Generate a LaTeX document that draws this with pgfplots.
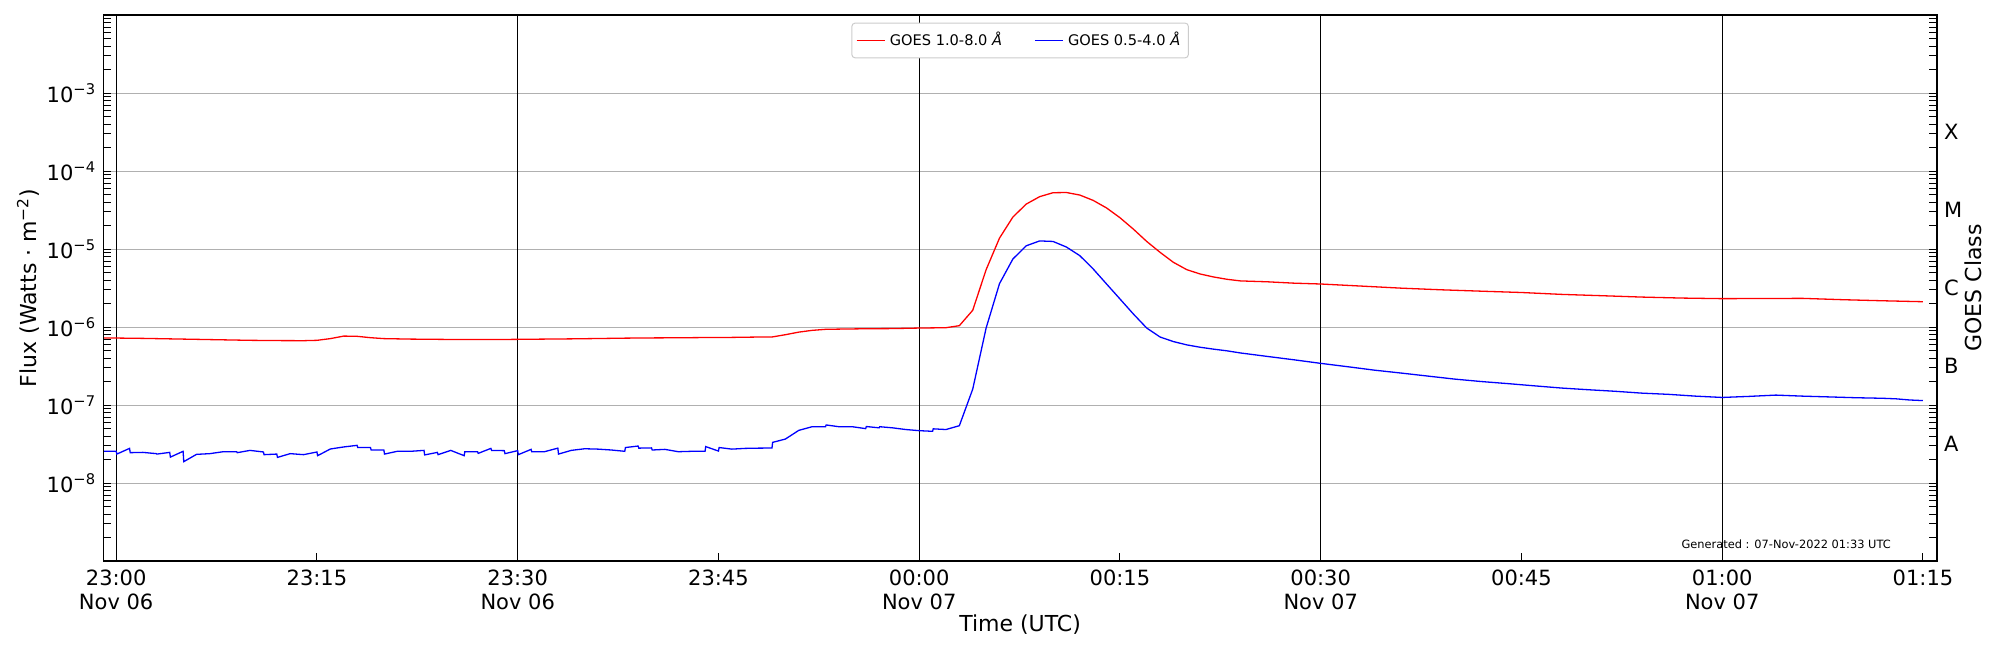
\documentclass[border=0pt]{standalone}
\usepackage{fontspec}
\setmainfont{DejaVu Sans}
\usepackage{pgfplots}
\pgfplotsset{compat=1.18}
\definecolor{gridgray}{HTML}{B0B0B0}
\definecolor{leggray}{HTML}{CCCCCC}
\pgfplotstableread{
t f
-1 7.25e-7
0 7.22e-7
2 7.15e-7
4 7.05e-7
6 6.95e-7
8 6.85e-7
10 6.75e-7
12 6.7e-7
14 6.68e-7
15 6.75e-7
16 7.1e-7
17 7.65e-7
18 7.6e-7
19 7.3e-7
20 7.1e-7
22 7.0e-7
24 6.95e-7
26 6.9e-7
28 6.9e-7
30 6.95e-7
32 7.0e-7
34 7.05e-7
36 7.12e-7
38 7.2e-7
40 7.25e-7
42 7.28e-7
44 7.33e-7
46 7.36e-7
48 7.44e-7
49 7.45e-7
50 7.97e-7
51 8.6e-7
52 9.06e-7
53 9.34e-7
54 9.4e-7
56 9.5e-7
58 9.55e-7
60 9.7e-7
62 9.8e-7
63 1.04e-6
64 1.64e-6
65 5.43e-6
66 1.38e-5
67 2.57e-5
68 3.77e-5
69 4.69e-5
70 5.27e-5
71 5.3e-5
72 4.92e-5
73 4.2e-5
74 3.36e-5
75 2.52e-5
76 1.8e-5
77 1.25e-5
78 9.06e-6
79 6.74e-6
80 5.43e-6
81 4.78e-6
82 4.38e-6
83 4.09e-6
84 3.9e-6
86 3.8e-6
88 3.65e-6
90 3.56e-6
93 3.35e-6
96 3.15e-6
99 3.0e-6
102 2.88e-6
105 2.77e-6
108 2.62e-6
111 2.52e-6
114 2.42e-6
117 2.35e-6
120 2.31e-6
123 2.32e-6
126 2.33e-6
129 2.24e-6
132 2.17e-6
135 2.11e-6
}\redtab
\pgfplotstableread{
t f
-1 2.55e-8
0 2.55e-8
0.05 2.35e-8
1 2.78e-8
1.05 2.45e-8
2 2.47e-8
3 2.38e-8
3.05 2.35e-8
4 2.47e-8
4.05 2.15e-8
5 2.55e-8
5.05 1.88e-8
6 2.33e-8
7 2.38e-8
8 2.52e-8
9 2.52e-8
9.05 2.45e-8
10 2.62e-8
11 2.50e-8
11.05 2.31e-8
12 2.35e-8
12.05 2.13e-8
13 2.38e-8
14 2.31e-8
15 2.50e-8
15.05 2.24e-8
16 2.73e-8
17 2.90e-8
18 3.04e-8
18.05 2.85e-8
19 2.85e-8
19.05 2.65e-8
20 2.65e-8
20.05 2.35e-8
21 2.55e-8
22 2.55e-8
23 2.62e-8
23.05 2.29e-8
24 2.47e-8
24.05 2.31e-8
25 2.62e-8
26 2.24e-8
26.05 2.52e-8
27 2.52e-8
27.05 2.40e-8
28 2.78e-8
28.05 2.62e-8
29 2.60e-8
29.05 2.38e-8
30 2.60e-8
30.05 2.31e-8
31 2.70e-8
31.05 2.52e-8
32 2.52e-8
33 2.80e-8
33.05 2.35e-8
34 2.62e-8
35 2.75e-8
36 2.72e-8
37 2.65e-8
38 2.55e-8
38.05 2.85e-8
39 2.98e-8
39.05 2.80e-8
40 2.82e-8
40.05 2.65e-8
41 2.70e-8
42 2.52e-8
43 2.55e-8
44 2.55e-8
44.05 2.93e-8
45 2.57e-8
45.05 2.85e-8
46 2.72e-8
47 2.78e-8
48 2.80e-8
49 2.81e-8
49.05 3.32e-8
50 3.66e-8
51 4.73e-8
52 5.27e-8
53 5.27e-8
53.05 5.55e-8
54 5.27e-8
55 5.27e-8
56 4.98e-8
56.05 5.3e-8
57 5.1e-8
57.05 5.27e-8
58 5.1e-8
59 4.85e-8
60 4.69e-8
61 4.6e-8
61.05 4.95e-8
62 4.85e-8
63 5.43e-8
64 1.6e-7
65 9.7e-7
66 3.6e-6
67 7.45e-6
68 1.1e-5
69 1.27e-5
70 1.25e-5
71 1.06e-5
72 8.22e-6
73 5.55e-6
74 3.56e-6
75 2.29e-6
76 1.47e-6
77 9.7e-7
78 7.44e-7
79 6.5e-7
80 5.9e-7
81 5.5e-7
82 5.2e-7
83 4.95e-7
84 4.65e-7
86 4.2e-7
88 3.8e-7
90 3.42e-7
92 3.1e-7
94 2.8e-7
96 2.57e-7
98 2.35e-7
100 2.15e-7
102 2.0e-7
104 1.88e-7
106 1.76e-7
108 1.65e-7
110 1.57e-7
112 1.5e-7
114 1.42e-7
116 1.37e-7
118 1.3e-7
120 1.25e-7
122 1.29e-7
124 1.34e-7
126 1.3e-7
128 1.27e-7
130 1.24e-7
132 1.22e-7
133 1.2e-7
134 1.16e-7
135 1.14e-7
}\bluetab
\begin{document}
\begin{tikzpicture}
\useasboundingbox (-51.6pt,-44.5pt) rectangle (948.4pt,280.5pt);
\begin{axis}[
  at={(0,0)}, anchor=south west,
  scale only axis, width=916.9pt, height=273pt,
  xmin=-0.97, xmax=136.05,
  ymode=log, ymin=1e-9, ymax=1e-2,
  tick align=inside,
  major tick length=3.8pt, minor tick length=3.8pt,
  tick style={black, line width=0.5pt},
  axis line style={black, line width=0.6pt},
  ticklabel style={font=\fontsize{10.5}{12}\selectfont},
  label style={font=\fontsize{11}{13}\selectfont},
  xtick={0,15,30,45,60,75,90,105,120,135},
  xticklabels={{23:00\\Nov 06},23:15,{23:30\\Nov 06},23:45,{00:00\\Nov 07},00:15,{00:30\\Nov 07},00:45,{01:00\\Nov 07},01:15},
  xticklabel style={align=center, anchor=north, yshift=-1pt},
  xtick pos=bottom,
  ytick={1e-8,1e-7,1e-6,1e-5,1e-4,1e-3},
  yticklabels={10\textsuperscript{−8},10\textsuperscript{−7},10\textsuperscript{−6},10\textsuperscript{−5},10\textsuperscript{−4},10\textsuperscript{−3}},
  minor ytick={2e-9,3e-9,4e-9,5e-9,6e-9,7e-9,8e-9,9e-9,2e-8,3e-8,4e-8,5e-8,6e-8,7e-8,8e-8,9e-8,2e-7,3e-7,4e-7,5e-7,6e-7,7e-7,8e-7,9e-7,2e-6,3e-6,4e-6,5e-6,6e-6,7e-6,8e-6,9e-6,2e-5,3e-5,4e-5,5e-5,6e-5,7e-5,8e-5,9e-5,2e-4,3e-4,4e-4,5e-4,6e-4,7e-4,8e-4,9e-4,2e-3,3e-3,4e-3,5e-3,6e-3,7e-3,8e-3,9e-3},
  ytick pos=left,
  ymajorgrids=true,
  major grid style={gridgray, line width=0.5pt},
  extra x ticks={0,30,60,90,120},
  extra x tick labels={},
  extra x tick style={grid=major, major grid style={black, line width=0.55pt}, major tick length=0pt},
  xlabel={Time (UTC)},
  xlabel style={at={(axis description cs:0.5,-0.1295)}, anchor=base},
  ylabel={Flux (Watts · m\textsuperscript{−2})},
  ylabel style={at={(axis description cs:-0.041,0.5)}, anchor=center},
  legend columns=2,
  legend style={at={(axis description cs:0.5,1)}, yshift=-3.85pt, anchor=north,
    draw=leggray, rounded corners=1.5pt, line width=0.5pt,
    font=\fontsize{7.3}{8.5}\selectfont, inner xsep=2pt, inner ysep=2.5pt,
    /tikz/column 2/.style={column sep=14pt}},
  legend image code/.code={\draw[#1] (0pt,0pt) -- (14.3pt,0pt);},
]
\addplot[red, line width=0.65pt] table[x=t, y=f] {\redtab};
\addlegendentry{GOES 1.0-8.0 \textit{Å}}
\addplot[blue, line width=0.65pt] table[x=t, y=f] {\bluetab};
\addlegendentry{GOES 0.5-4.0 \textit{Å}}
\node[anchor=east, inner sep=0pt, font=\fontsize{5.7}{7}\selectfont] at (axis description cs:0.975,0.031) {Generated : 07-Nov-2022 01:33 UTC};
\end{axis}
\begin{axis}[
  at={(0,0)}, anchor=south west,
  scale only axis, width=916.9pt, height=273pt,
  xmin=-0.97, xmax=136.05,
  ymode=log, ymin=1e-9, ymax=1e-2,
  tick align=inside,
  major tick length=3.8pt, minor tick length=3.8pt,
  tick style={black, line width=0.5pt},
  axis line style={black, line width=0.6pt},
  ticklabel style={font=\fontsize{10.5}{12}\selectfont},
  label style={font=\fontsize{11}{13}\selectfont},
  hide x axis,
  ytick pos=right, yticklabel pos=right,
  ytick={1e-8,1e-7,1e-6,1e-5,1e-4,1e-3},
  yticklabels={,,,,,},
  minor ytick={2e-9,3e-9,4e-9,5e-9,6e-9,7e-9,8e-9,9e-9,2e-8,3e-8,4e-8,5e-8,6e-8,7e-8,8e-8,9e-8,2e-7,3e-7,4e-7,5e-7,6e-7,7e-7,8e-7,9e-7,2e-6,3e-6,4e-6,5e-6,6e-6,7e-6,8e-6,9e-6,2e-5,3e-5,4e-5,5e-5,6e-5,7e-5,8e-5,9e-5,2e-4,3e-4,4e-4,5e-4,6e-4,7e-4,8e-4,9e-4,2e-3,3e-3,4e-3,5e-3,6e-3,7e-3,8e-3,9e-3},
  extra y ticks={3.1623e-8,3.1623e-7,3.1623e-6,3.1623e-5,3.1623e-4},
  extra y tick labels={A,B,C,M,X},
  extra y tick style={major tick length=0pt},
  ylabel={GOES Class},
  ylabel style={at={(axis description cs:1.0196,0.5)}, anchor=center},
]
\end{axis}
\end{tikzpicture}
\end{document}
